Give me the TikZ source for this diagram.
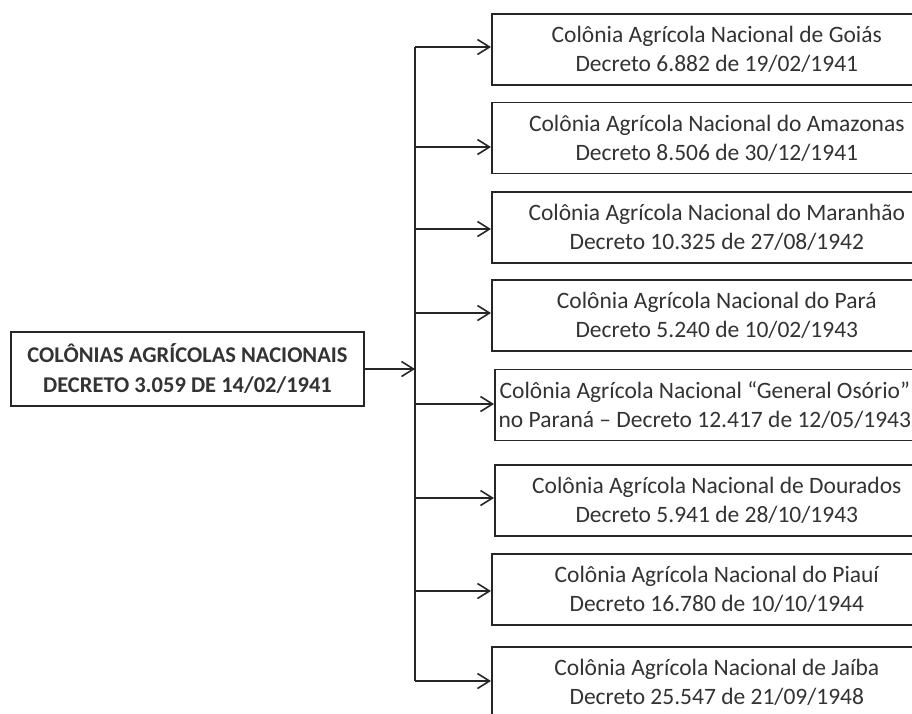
\documentclass[tikz,border=0pt]{standalone}
\usepackage{fontspec}
\setmainfont{Carlito}
\usepackage{tikz}
\usetikzlibrary{arrows.meta}

\begin{document}
\begin{tikzpicture}[x=1pt,y=-1pt]
\tikzset{every node/.style={text=black!80}}
\tikzset{line/.style={draw=black!85, line width=1.6pt}}
\tikzset{arrow/.style={line, -{Straight Barb[length=12pt,width=15pt,line width=1.6pt]}}}
\tikzset{colbox/.style={line, anchor=west, minimum width=450pt, minimum height=71pt, align=center, inner sep=0pt, font=\fontsize{23.5}{29}\selectfont}}
\tikzset{rootbox/.style={line, minimum width=353pt, minimum height=74pt, align=center, inner sep=0pt, font=\fontsize{22.5}{30}\selectfont\bfseries}}
\useasboundingbox (0,0) rectangle (912,713);
\clip (0,0) rectangle (912,713);
\fill[white] (0,0) rectangle (912,713);

\node[rootbox] (root) at (187.5,369) {COLÔNIAS AGRÍCOLAS NACIONAIS\\DECRETO 3.059 DE 14/02/1941};

\node[colbox] (goias) at (491,49.5) {Colônia Agrícola Nacional de Goiás\\Decreto 6.882 de 19/02/1941};
\node[colbox] (amazonas) at (491,138) {Colônia Agrícola Nacional do Amazonas\\Decreto 8.506 de 30/12/1941};
\node[colbox] (maranhao) at (491,227.5) {Colônia Agrícola Nacional do Maranhão\\Decreto 10.325 de 27/08/1942};
\node[colbox] (para) at (491,315.5) {Colônia Agrícola Nacional do Pará\\Decreto 5.240 de 10/02/1943};
\node[colbox, minimum width=420pt] (osorio) at (494,405) {Colônia Agrícola Nacional “General Osório”\\no Paraná – Decreto 12.417 de 12/05/1943};
\node[colbox, minimum width=444pt] (dourados) at (494,500.5) {Colônia Agrícola Nacional de Dourados\\Decreto 5.941 de 28/10/1943};
\node[colbox] (piaui) at (491,589.5) {Colônia Agrícola Nacional do Piauí\\Decreto 16.780 de 10/10/1944};
\node[colbox] (jaiba) at (491,682.5) {Colônia Agrícola Nacional de Jaíba\\Decreto 25.547 de 21/09/1948};

% trunk
\coordinate (top) at (415,47);
\coordinate (bot) at (415,681);
\coordinate (mid) at (415,369);
\draw[line] (top) -- (bot);
\draw[arrow] (root) -- (mid);

\foreach \y/\b in {47/goias, 147/amazonas, 229/maranhao, 313/para, 404/osorio, 498/dourados, 591/piaui, 681/jaiba}
  {\coordinate (t\b) at (415,\y);
   \draw[arrow] (t\b) -- (t\b -| \b.west);}
\end{tikzpicture}
\end{document}
